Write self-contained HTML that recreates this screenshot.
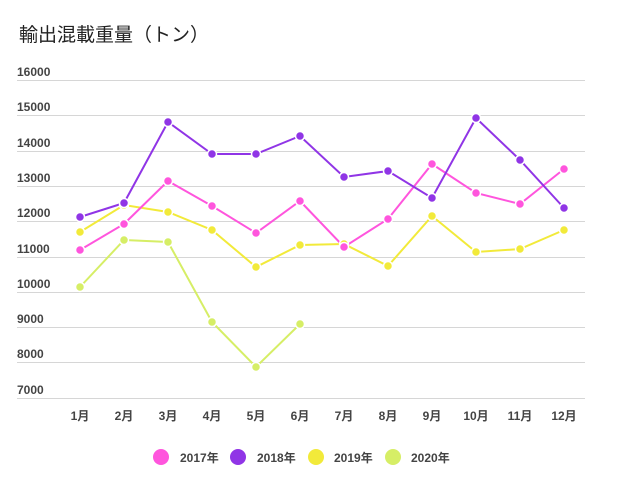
<!DOCTYPE html><html><head><meta charset="utf-8"><style>body{margin:0;background:#fff}svg text{font-family:"Liberation Sans","Noto Sans CJK JP",sans-serif}</style></head><body>
<svg width="618" height="486" xmlns="http://www.w3.org/2000/svg">
<text x="19" y="41" font-size="19" fill="#222" style="font-family:'Noto Sans CJK JP',sans-serif">輸出混載重量（トン）</text>
<g stroke="#d6d6d6" stroke-width="1">
<line x1="17" x2="585" y1="80.5" y2="80.5"/><line x1="17" x2="585" y1="115.5" y2="115.5"/><line x1="17" x2="585" y1="151.5" y2="151.5"/><line x1="17" x2="585" y1="186.5" y2="186.5"/><line x1="17" x2="585" y1="221.5" y2="221.5"/><line x1="17" x2="585" y1="257.5" y2="257.5"/><line x1="17" x2="585" y1="292.5" y2="292.5"/><line x1="17" x2="585" y1="327.5" y2="327.5"/><line x1="17" x2="585" y1="362.5" y2="362.5"/><line x1="17" x2="585" y1="398.5" y2="398.5"/>
</g>
<g font-size="12" font-weight="bold" fill="#444">
<text x="17" y="76">16000</text><text x="17" y="111">15000</text><text x="17" y="147">14000</text><text x="17" y="182">13000</text><text x="17" y="217">12000</text><text x="17" y="253">11000</text><text x="17" y="288">10000</text><text x="17" y="323">9000</text><text x="17" y="358">8000</text><text x="17" y="394">7000</text>
</g>
<g font-size="12" font-weight="bold" fill="#444" text-anchor="middle">
<text x="80" y="420">1月</text><text x="124" y="420">2月</text><text x="168" y="420">3月</text><text x="212" y="420">4月</text><text x="256" y="420">5月</text><text x="300" y="420">6月</text><text x="344" y="420">7月</text><text x="388" y="420">8月</text><text x="432" y="420">9月</text><text x="476" y="420">10月</text><text x="520" y="420">11月</text><text x="564" y="420">12月</text>
</g>
<g fill="none" stroke-width="2">
<polyline stroke="#d6ee66" points="80,287 124,240 168,242 212,322 256,367 300,324"/>
<polyline stroke="#f2ea3a" points="80,232 124,205 168,212 212,230 256,267 300,245 344,244 388,266 432,216 476,252 520,249 564,230"/>
<polyline stroke="#ff55dd" points="80,250 124,224 168,181 212,206 256,233 300,201 344,247 388,219 432,164 476,193 520,204 564,169"/>
<polyline stroke="#9035e6" points="80,217 124,203 168,122 212,154 256,154 300,136 344,177 388,171 432,198 476,118 520,160 564,208"/>
</g>
<g fill="#d6ee66" stroke="#fff" stroke-width="1.5"><circle cx="80" cy="287" r="4.5"/><circle cx="124" cy="240" r="4.5"/><circle cx="168" cy="242" r="4.5"/><circle cx="212" cy="322" r="4.5"/><circle cx="256" cy="367" r="4.5"/><circle cx="300" cy="324" r="4.5"/></g>
<g fill="#f2ea3a" stroke="#fff" stroke-width="1.5"><circle cx="80" cy="232" r="4.5"/><circle cx="124" cy="205" r="4.5"/><circle cx="168" cy="212" r="4.5"/><circle cx="212" cy="230" r="4.5"/><circle cx="256" cy="267" r="4.5"/><circle cx="300" cy="245" r="4.5"/><circle cx="344" cy="244" r="4.5"/><circle cx="388" cy="266" r="4.5"/><circle cx="432" cy="216" r="4.5"/><circle cx="476" cy="252" r="4.5"/><circle cx="520" cy="249" r="4.5"/><circle cx="564" cy="230" r="4.5"/></g>
<g fill="#ff55dd" stroke="#fff" stroke-width="1.5"><circle cx="80" cy="250" r="4.5"/><circle cx="124" cy="224" r="4.5"/><circle cx="168" cy="181" r="4.5"/><circle cx="212" cy="206" r="4.5"/><circle cx="256" cy="233" r="4.5"/><circle cx="300" cy="201" r="4.5"/><circle cx="344" cy="247" r="4.5"/><circle cx="388" cy="219" r="4.5"/><circle cx="432" cy="164" r="4.5"/><circle cx="476" cy="193" r="4.5"/><circle cx="520" cy="204" r="4.5"/><circle cx="564" cy="169" r="4.5"/></g>
<g fill="#9035e6" stroke="#fff" stroke-width="1.5"><circle cx="80" cy="217" r="4.5"/><circle cx="124" cy="203" r="4.5"/><circle cx="168" cy="122" r="4.5"/><circle cx="212" cy="154" r="4.5"/><circle cx="256" cy="154" r="4.5"/><circle cx="300" cy="136" r="4.5"/><circle cx="344" cy="177" r="4.5"/><circle cx="388" cy="171" r="4.5"/><circle cx="432" cy="198" r="4.5"/><circle cx="476" cy="118" r="4.5"/><circle cx="520" cy="160" r="4.5"/><circle cx="564" cy="208" r="4.5"/></g>
<g font-size="12" font-weight="bold" fill="#444">
<circle cx="161" cy="457" r="8" fill="#ff55dd"/><text x="180" y="462">2017年</text>
<circle cx="238" cy="457" r="8" fill="#9035e6"/><text x="257" y="462">2018年</text>
<circle cx="316" cy="457" r="8" fill="#f2ea3a"/><text x="334" y="462">2019年</text>
<circle cx="393" cy="457" r="8" fill="#d6ee66"/><text x="411" y="462">2020年</text>
</g>
</svg></body></html>
